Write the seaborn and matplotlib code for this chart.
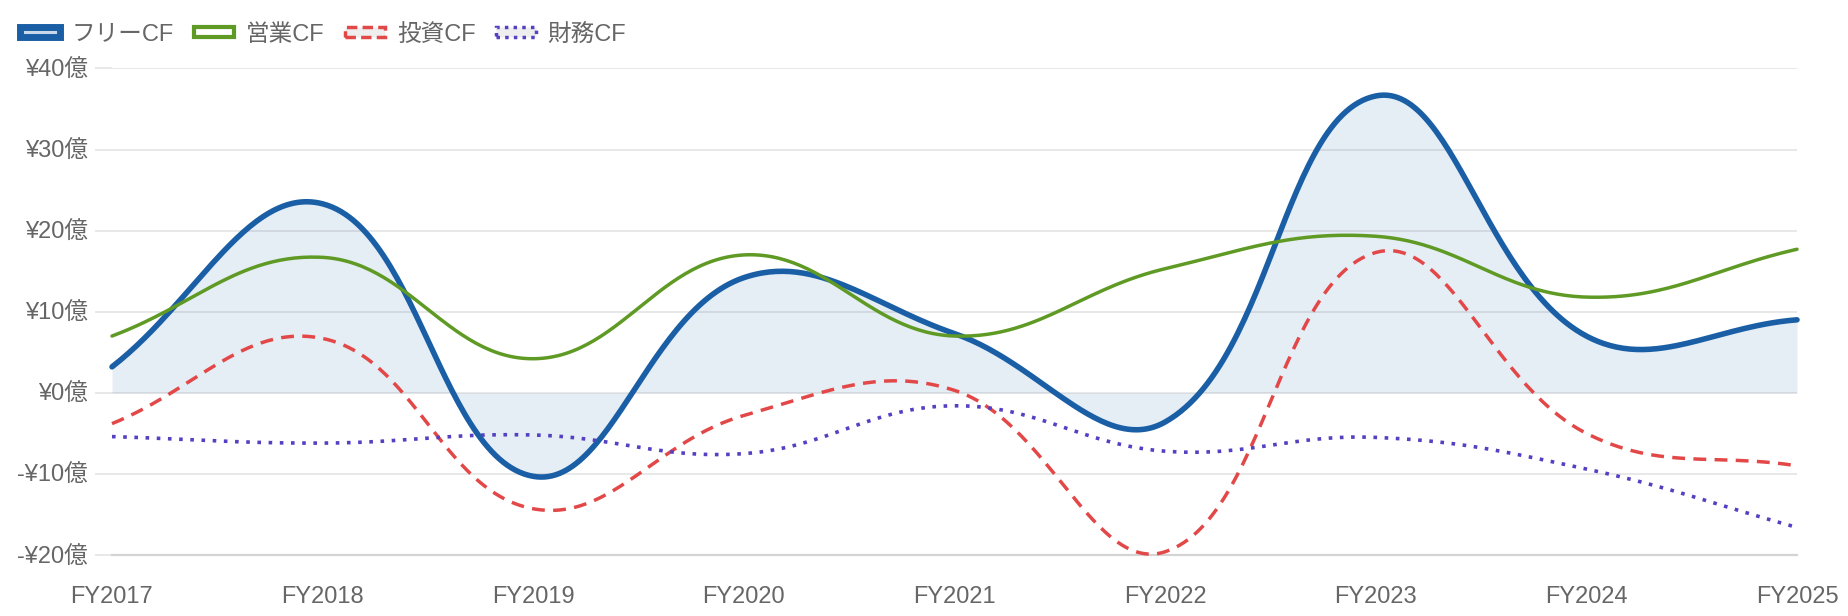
import numpy as np
import pandas as pd
import seaborn as sns
import matplotlib.pyplot as plt
from matplotlib.patches import Rectangle

years = ['FY2017', 'FY2018', 'FY2019', 'FY2020', 'FY2021', 'FY2022', 'FY2023', 'FY2024', 'FY2025']
free_cf = [3.2, 23.3, -10.3, 14.2, 7.3, -3.6, 36.6, 7.0, 9.0]
op_cf = [7.0, 16.7, 4.2, 17.0, 7.0, 15.3, 19.3, 11.8, 17.7]
inv_cf = [-3.8, 6.7, -14.3, -2.8, 0.3, -19.6, 17.3, -5.0, -9.0]
fin_cf = [-5.4, -6.2, -5.2, -7.5, -1.6, -7.2, -5.5, -9.4, -16.6]
yticks = [-20, -10, 0, 10, 20, 30, 40]

# pixel scale used for the bezier control points (chart.js style tension)
PX_X = 210.5
PX_Y = 8.1
TENSION = 0.4


def smooth(vals, n=60):
    px = np.arange(len(vals)) * PX_X
    py = np.array(vals) * PX_Y
    cps = []
    for i in range(len(vals)):
        p0 = (px[max(i - 1, 0)], py[max(i - 1, 0)])
        p1 = (px[i], py[i])
        p2 = (px[min(i + 1, len(vals) - 1)], py[min(i + 1, len(vals) - 1)])
        d01 = np.hypot(p1[0] - p0[0], p1[1] - p0[1])
        d12 = np.hypot(p2[0] - p1[0], p2[1] - p1[1])
        s01 = d01 / (d01 + d12)
        s12 = d12 / (d01 + d12)
        fa, fb = TENSION * s01, TENSION * s12
        prev = (p1[0] - fa * (p2[0] - p0[0]), p1[1] - fa * (p2[1] - p0[1]))
        nxt = (p1[0] + fb * (p2[0] - p0[0]), p1[1] + fb * (p2[1] - p0[1]))
        cps.append((prev, nxt))
    xs, ys = [], []
    t = np.linspace(0, 1, n)
    for i in range(len(vals) - 1):
        a = np.array([px[i], py[i]])
        b = np.array(cps[i][1])
        c = np.array(cps[i + 1][0])
        d = np.array([px[i + 1], py[i + 1]])
        pts = ((1 - t) ** 3)[:, None] * a + (3 * (1 - t) ** 2 * t)[:, None] * b \
            + (3 * (1 - t) * t ** 2)[:, None] * c + (t ** 3)[:, None] * d
        xs.extend(pts[:, 0] / PX_X)
        ys.extend(pts[:, 1] / PX_Y)
    return np.array(xs), np.array(ys)


sns.set_theme(style='white')
plt.rcParams['font.family'] = ['Liberation Sans', 'Noto Sans CJK JP', 'DejaVu Sans']

fig = plt.figure(figsize=(18.48, 6.16), dpi=100)
ax = fig.add_axes([112 / 1848, 1 - 555 / 616, (1797 - 112) / 1848, (555 - 68.4) / 616])

series = [
    ('フリーCF', free_cf, '#1a5fa5', 4.0, '-'),
    ('営業CF', op_cf, '#5f9a24', 2.5, '-'),
    ('投資CF', inv_cf, '#e34848', 2.5, (0, (3.7, 2.4))),
    ('財務CF', fin_cf, '#5440c2', 2.6, (0, (1.0, 2.1))),
]

fx, fy = smooth(free_cf)
ax.fill_between(fx, fy, 0, color='#1a5fa5', alpha=0.11, linewidth=0, zorder=1)

for name, vals, col, lw, ls in series:
    sx, sy = smooth(vals)
    df = pd.DataFrame({'x': sx, 'y': sy})
    sns.lineplot(data=df, x='x', y='y', color=col, linewidth=lw, linestyle=ls,
                 sort=False, estimator=None, ax=ax, zorder=3, clip_on=False)

ax.set_xlim(0, len(years) - 1)
ax.set_ylim(-20, 40)
ax.set_yticks(yticks)
ax.set_yticklabels([('-' if v < 0 else '') + '¥' + str(abs(v)) + '億' for v in yticks])
ax.set_xticks(range(len(years)))
ax.set_xticklabels(years)
ax.set_xlabel('')
ax.set_ylabel('')

for v in yticks:
    ax.axhline(v, color='#e6e6e6', linewidth=1.3, zorder=0)
for s in ['top', 'right', 'left']:
    ax.spines[s].set_visible(False)
ax.spines['bottom'].set_color('#d4d4d4')
ax.spines['bottom'].set_linewidth(1.6)

ax.tick_params(axis='y', length=12, width=1.3, color='#e6e6e6', pad=5.5,
               labelsize=17, labelcolor='#666666', left=True)
ax.tick_params(axis='x', length=0, pad=22, labelsize=17, labelcolor='#666666')

handles = [
    Rectangle((0, 0), 1, 1, facecolor='#c8d8ea', edgecolor='#1a5fa5', linewidth=5.0),
    Rectangle((0, 0), 1, 1, facecolor='white', edgecolor='#5f9a24', linewidth=3.0),
    Rectangle((0, 0), 1, 1, facecolor='#eeeeee', edgecolor='#e34848', linewidth=2.5, linestyle=(0, (3.0, 1.5))),
    Rectangle((0, 0), 1, 1, facecolor='#eeeeee', edgecolor='#5440c2', linewidth=2.5, linestyle=(0, (1.0, 1.5))),
]
leg = fig.legend(handles, [s[0] for s in series], loc='center left',
                 bbox_to_anchor=(20 / 1848, 1 - 34.5 / 616), ncol=4, frameon=False,
                 fontsize=17, handlelength=1.7, handleheight=0.3, handletextpad=0.5,
                 columnspacing=0.85, borderpad=0, borderaxespad=0)
for t in leg.get_texts():
    t.set_color('#666666')

fig.savefig('out.png', dpi=100)
